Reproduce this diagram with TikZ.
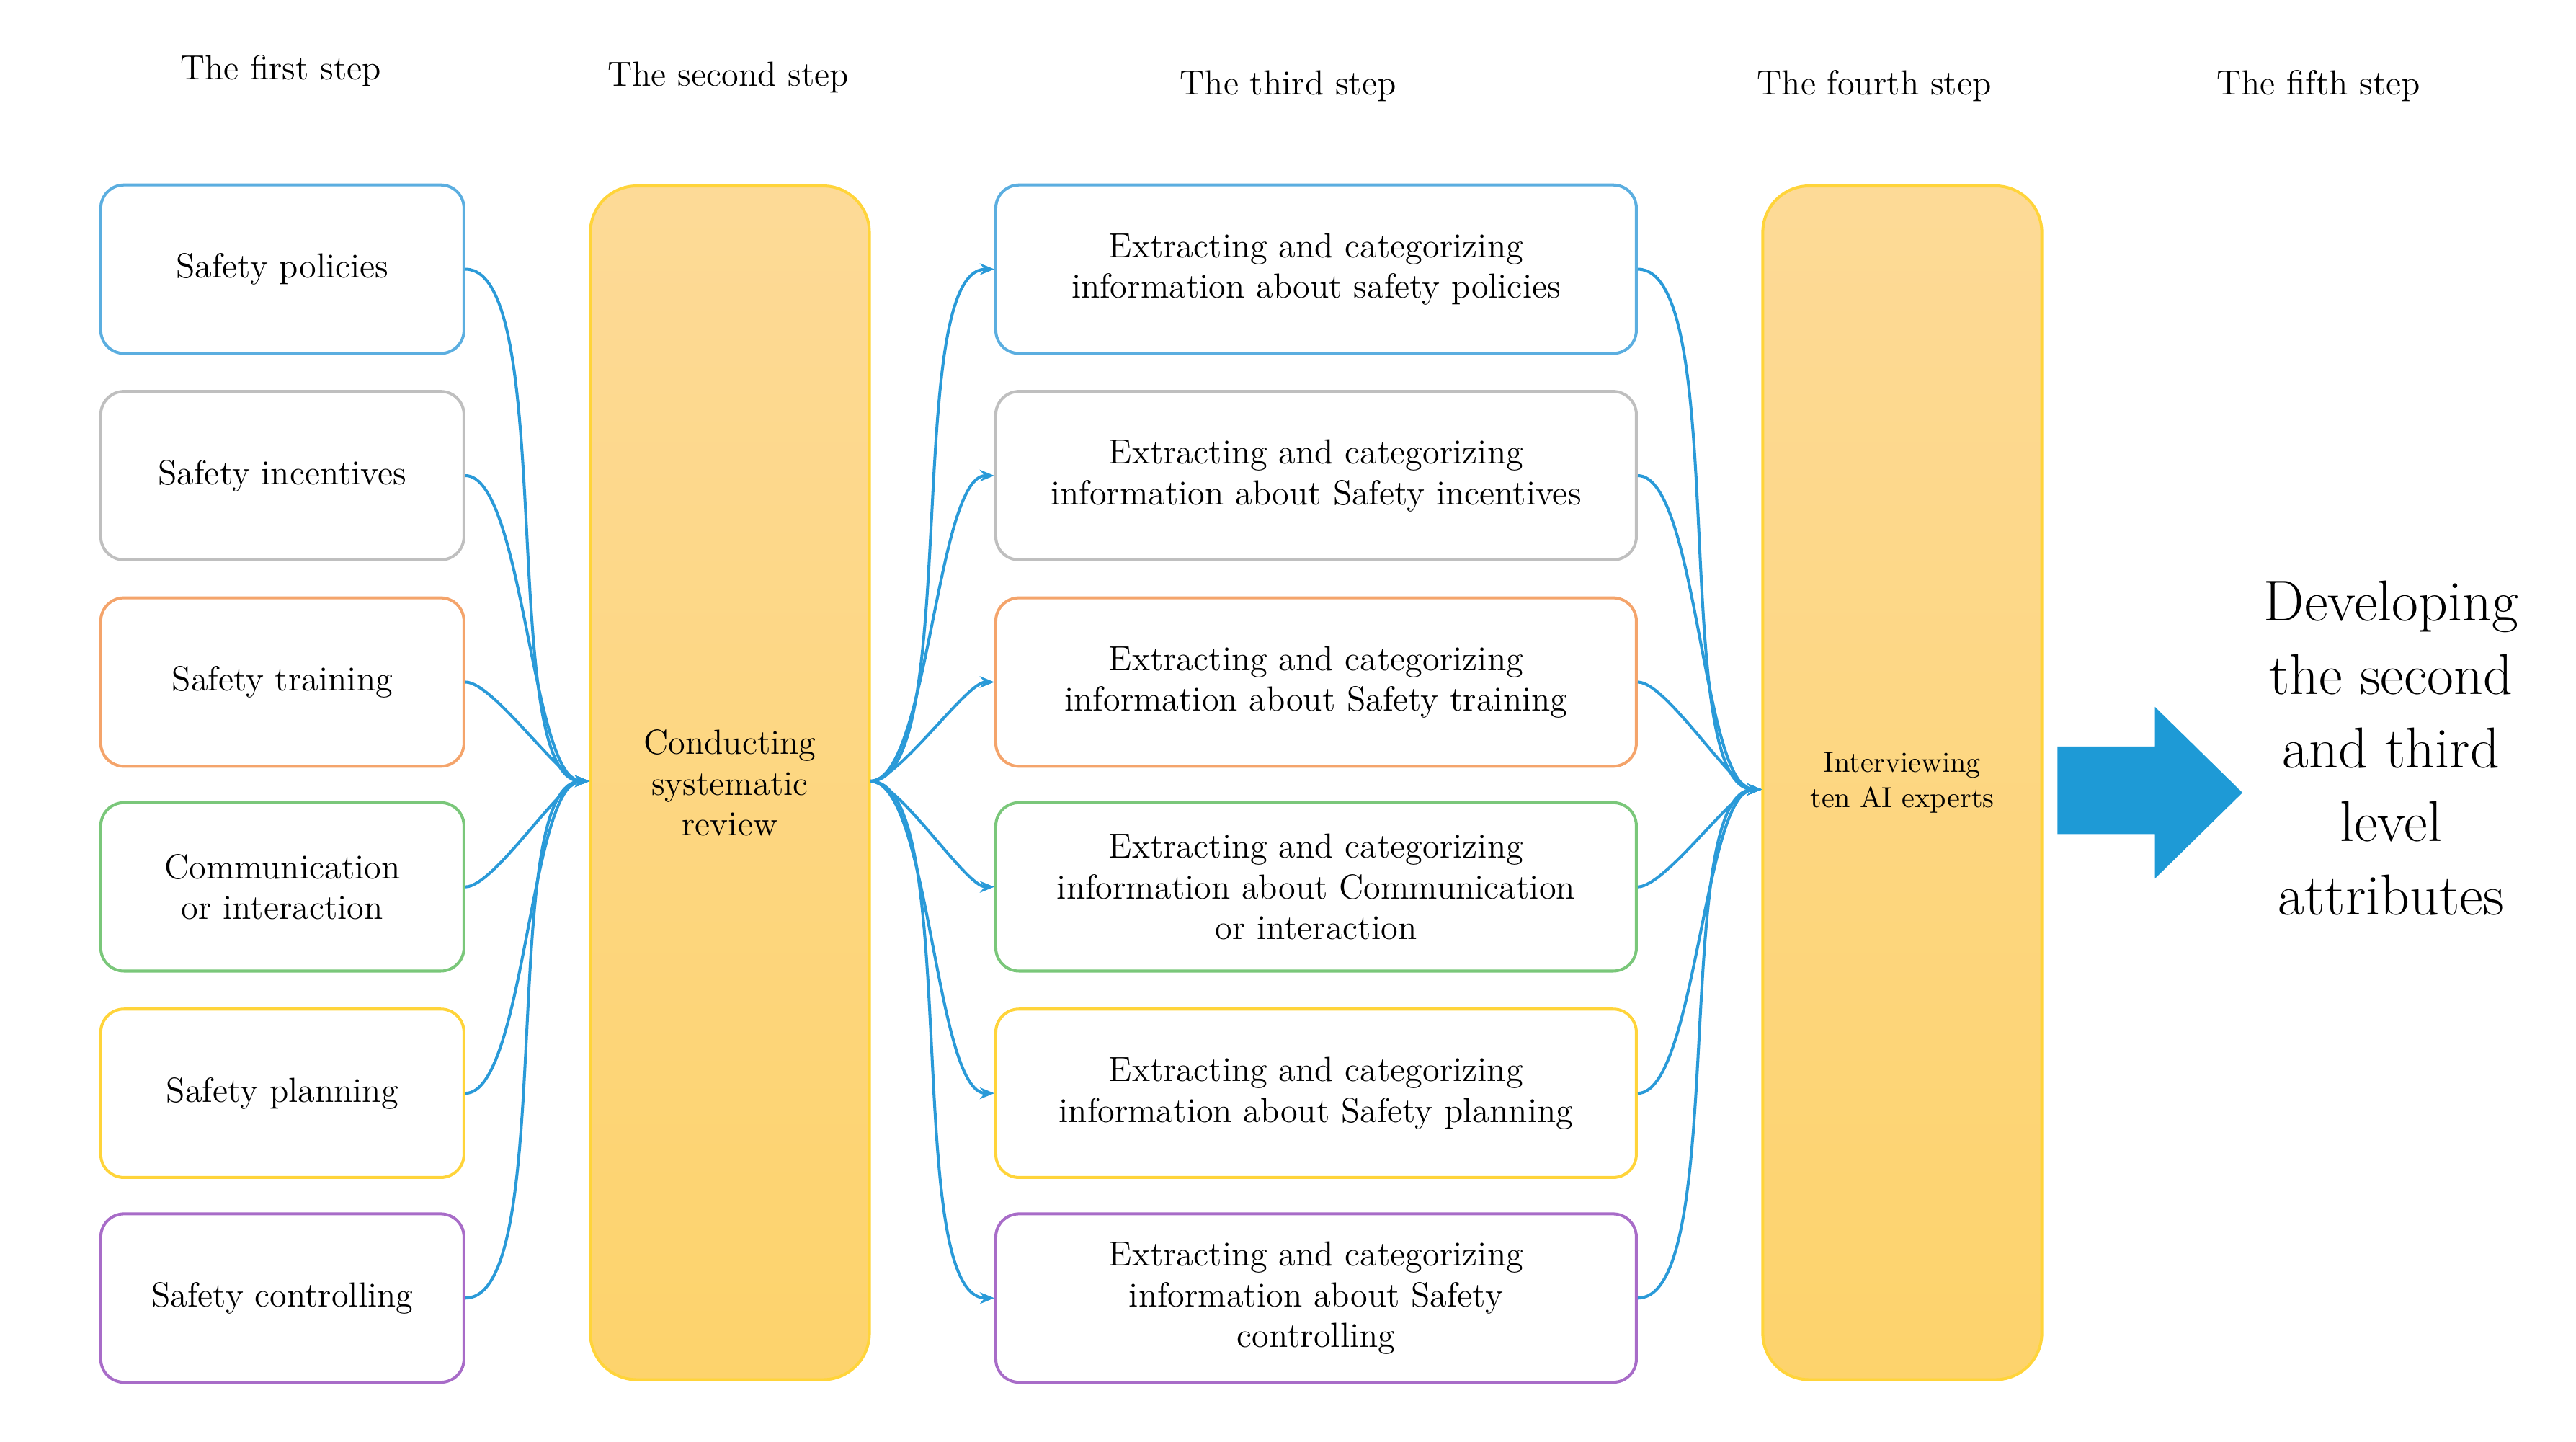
\documentclass[tikz,border=0pt]{standalone}
\usepackage{tikz}
\usetikzlibrary{arrows.meta}
\usetikzlibrary{positioning}
\definecolor{cblue}{HTML}{5BAEE0}
\definecolor{cgray}{HTML}{BFBFBF}
\definecolor{corange}{HTML}{F4A46B}
\definecolor{cgreen}{HTML}{7AC77A}
\definecolor{cyellow}{HTML}{FFD43A}
\definecolor{cpurple}{HTML}{A86CC8}
\definecolor{link}{HTML}{2A9AD8}
\definecolor{bigarrow}{HTML}{1E9AD6}
\definecolor{steptop}{HTML}{FDDA97}
\definecolor{stepbottom}{HTML}{FDD36C}
\begin{document}
\begin{tikzpicture} [
            x=0.02cm, y=-0.02cm,
            % ----- Node definitions ----- %
            itemnode/.style = {
                draw=#1, line width=1pt,
                rectangle, rounded corners=8pt,
                minimum width=4.4cm, minimum height=2.04cm,
                align=center, font=\large
            },
            infonode/.style = {
                itemnode=#1,
                minimum width=7.76cm
            },
            stepnode/.style = {
                draw=cyellow, line width=1pt,
                rectangle, rounded corners=16pt,
                top color=steptop, bottom color=stepbottom,
                minimum width=3.38cm, minimum height=14.46cm,
                align=center
            },
            headnode/.style = {font=\large},
            linkline/.style = {draw=link, line width=1pt},
            linkarrow/.style = {linkline, -{Stealth[length=5pt,width=4pt]}},
    ]
    \useasboundingbox (0,0) rectangle (1560,873);

            % ----- Headers ----- %
    \node [headnode] (h1) at (170,43) {The first step};
    \node [headnode] (h2) at (441,47) {The second step};
    \node [headnode] (h3) at (780,52) {The third step};
    \node [headnode] (h4) at (1135,52) {The fourth step};
    \node [headnode] (h5) at (1404,52) {The fifth step};

            % ----- Node constructions ----- %
    \foreach \n/\y/\c/\t in {1/163/cblue/Safety policies,
                             2/288/cgray/Safety incentives,
                             3/413/corange/Safety training,
                             4/537/cgreen/Communication\\or interaction,
                             5/662/cyellow/Safety planning,
                             6/786/cpurple/Safety controlling}
        \node [itemnode=\c] (first\n) at (171,\y) {\t};

    \foreach \n/\y/\c/\t in {1/163/cblue/information about safety policies,
                             2/288/cgray/information about Safety incentives,
                             3/413/corange/information about Safety training,
                             4/537/cgreen/information about Communication\\or interaction,
                             5/662/cyellow/information about Safety planning,
                             6/786/cpurple/information about Safety\\controlling}
        \node [infonode=\c] (third\n) at (797,\y) {Extracting and categorizing\\\t};

    \node [stepnode, font=\large] (review) at (442,474) {Conducting\\systematic\\review};
    \node [stepnode] (experts) at (1152,474) {Interviewing\\ten AI experts};

    \coordinate (inreview) at (357,473);
    \coordinate (outreview) at (527,473);
    \coordinate (inexperts) at (1067,478);

            % ----- Connectors ----- %
    \foreach \n in {1,...,6} {
        \draw [linkarrow] (first\n.east) to[out=0, in=180, looseness=0.45] (inreview);
        \draw [linkarrow] (outreview) to[out=0, in=180, looseness=0.45] (third\n.west);
        \draw [linkarrow] (third\n.east) to[out=0, in=180, looseness=0.45] (inexperts);
    }

    \fill [bigarrow] (1246,452) -- (1305,452) -- (1305,428) -- (1358,480)
        -- (1305,532) -- (1305,505) -- (1246,505) -- cycle;
    \node [align=center, font=\LARGE, scale=1.15] (result) at (1448,453)
        {Developing\\the second\\and third\\level\\attributes};

\end{tikzpicture}
\end{document}
